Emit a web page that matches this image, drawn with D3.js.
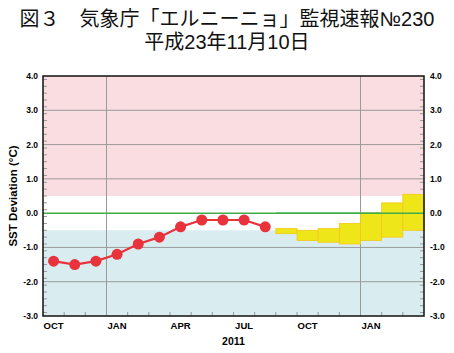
<!DOCTYPE html>
<html>
<head>
<meta charset="utf-8">
<script src="https://cdn.jsdelivr.net/npm/d3@7"></script>
<style>
  body { margin: 0; background: #fff; }
  svg { display: block; }
</style>
</head>
<body>
<svg id="chart" width="454" height="353"></svg>
<script>
// months from OCT 2010 to MAR 2012 (index 0..17)
const months = ['OCT','NOV','DEC','JAN','FEB','MAR','APR','MAY','JUN','JUL','AUG','SEP',
                'OCT','NOV','DEC','JAN','FEB','MAR'];
const monthLabels = ['OCT','JAN','APR','JUL','OCT','JAN'];
const labelIdx = [0, 3, 6, 9, 12, 15];
const yearLabel = '2011';
const yearSpan = [3, 15];

// observed 5-month running mean (OCT 2010 - AUG 2011)
const observed = [-1.4, -1.5, -1.4, -1.2, -0.9, -0.7, -0.4, -0.2, -0.2, -0.2, -0.4];

// forecast range (SEP 2011 - MAR 2012)
const fcStart = 11;
const fcLow  = [-0.6, -0.8, -0.85, -0.9, -0.8, -0.7, -0.5];
const fcHigh = [-0.45, -0.5, -0.45, -0.3, 0.0, 0.3, 0.55];

const yTicks = [4, 3, 2, 1, 0, -1, -2, -3];
const titleLines = ['図３　気象庁「エルニーニョ」監視速報№230', '平成23年11月10日'];
const yTitle = 'SST Deviation (°C)';

const svg = d3.select('#chart');
const L = 43, R = 424, T = 76, B = 316;

const x = d3.scaleLinear().domain([0, months.length]).range([L, R]);
const y = d3.scaleLinear().domain([-3, 4]).range([B, T]);

const axisFont = '"Liberation Sans", Arial, Helvetica, sans-serif';

// title
svg.selectAll('.title').data(titleLines).enter().append('text')
   .attr('class', 'title')
   .attr('x', 227).attr('y', (d, i) => 26 + i*23)
   .attr('text-anchor', 'middle')
   .attr('font-family', '"Liberation Sans", "Noto Sans CJK JP", sans-serif')
   .attr('font-size', 20)
   .attr('fill', '#111')
   .text(d => d);

// background bands
svg.append('rect').attr('x', L).attr('y', y(4))
   .attr('width', R-L).attr('height', y(0.5)-y(4)).attr('fill', '#fadde1');
svg.append('rect').attr('x', L).attr('y', y(-0.5))
   .attr('width', R-L).attr('height', y(-3)-y(-0.5)).attr('fill', '#d9edf1');

// grid
svg.selectAll('.hgrid').data(yTicks.filter(d => d !== 0 && d !== 4 && d !== -3)).enter()
   .append('line').attr('class', 'hgrid')
   .attr('x1', L).attr('x2', R).attr('y1', d => y(d)).attr('y2', d => y(d))
   .attr('stroke', '#9a9a9a').attr('stroke-width', 1);
svg.selectAll('.vgrid').data([3, 15]).enter()
   .append('line').attr('class', 'vgrid')
   .attr('x1', d => x(d)).attr('x2', d => x(d)).attr('y1', T).attr('y2', B)
   .attr('stroke', '#9a9a9a').attr('stroke-width', 1);

// minor ticks
const minor = d3.range(-29, 40, 2).map(d => d/10);
[[L, 4], [R, -4]].forEach(([x0, len]) => {
  svg.selectAll(null).data(minor).enter().append('line')
     .attr('x1', x0).attr('x2', x0 + len)
     .attr('y1', d => y(d)).attr('y2', d => y(d))
     .attr('stroke', '#999').attr('stroke-width', 1);
});
svg.selectAll(null).data(d3.range(1, months.length)).enter().append('line')
   .attr('x1', d => x(d)).attr('x2', d => x(d))
   .attr('y1', B).attr('y2', B - 4)
   .attr('stroke', '#999').attr('stroke-width', 1);

// zero line
svg.append('line').attr('x1', L).attr('x2', R).attr('y1', y(0)).attr('y2', y(0))
   .attr('stroke', '#3fae4a').attr('stroke-width', 1.5);

// forecast boxes
svg.selectAll('.fc').data(fcLow).enter().append('rect')
   .attr('class', 'fc')
   .attr('x', (d, i) => x(fcStart + i))
   .attr('width', x(1) - x(0))
   .attr('y', (d, i) => y(fcHigh[i]))
   .attr('height', (d, i) => y(d) - y(fcHigh[i]))
   .attr('fill', '#efe61a').attr('stroke', '#f2c81a').attr('stroke-width', 0.8);
// zero line shows over boxes
svg.append('line').attr('x1', x(fcStart)).attr('x2', R).attr('y1', y(0)).attr('y2', y(0))
   .attr('stroke', '#3fae4a').attr('stroke-width', 1.5);

// observed line
const line = d3.line().x((d, i) => x(i + 0.5)).y(d => y(d));
svg.append('path').datum(observed).attr('d', line)
   .attr('fill', 'none').attr('stroke', '#e8323c').attr('stroke-width', 2.2);
svg.selectAll('.dot').data(observed).enter().append('circle')
   .attr('class', 'dot')
   .attr('cx', (d, i) => x(i + 0.5)).attr('cy', d => y(d))
   .attr('r', 5.5).attr('fill', '#e8323c');

// frame
svg.append('rect').attr('x', L).attr('y', T).attr('width', R-L).attr('height', B-T)
   .attr('fill', 'none').attr('stroke', '#111').attr('stroke-width', 1.5);

// y labels both sides
svg.selectAll('.yl').data(yTicks).enter().append('text')
   .attr('class', 'yl')
   .attr('x', 38).attr('y', d => y(d) + 3)
   .attr('text-anchor', 'end')
   .attr('font-family', axisFont).attr('font-weight', 'bold').attr('font-size', 8.5)
   .text(d => d.toFixed(1));
svg.selectAll('.yr').data(yTicks).enter().append('text')
   .attr('class', 'yr')
   .attr('x', 430).attr('y', d => y(d) + 3)
   .attr('text-anchor', 'start')
   .attr('font-family', axisFont).attr('font-weight', 'bold').attr('font-size', 8.5)
   .text(d => d.toFixed(1));

// x labels
svg.selectAll('.xl').data(monthLabels).enter().append('text')
   .attr('class', 'xl')
   .attr('x', (d, i) => x(labelIdx[i] + 0.5)).attr('y', 329)
   .attr('text-anchor', 'middle')
   .attr('font-family', axisFont).attr('font-weight', 'bold').attr('font-size', 9.5)
   .text(d => d);
svg.append('text')
   .attr('x', (x(yearSpan[0]) + x(yearSpan[1])) / 2).attr('y', 345)
   .attr('text-anchor', 'middle')
   .attr('font-family', axisFont).attr('font-weight', 'bold').attr('font-size', 10.5)
   .text(yearLabel);

// y title
svg.append('text')
   .attr('transform', `translate(17, ${(T + B) / 2}) rotate(-90)`)
   .attr('text-anchor', 'middle')
   .attr('font-family', axisFont).attr('font-weight', 'bold').attr('font-size', 11.5)
   .text(yTitle);
</script>
</body>
</html>
